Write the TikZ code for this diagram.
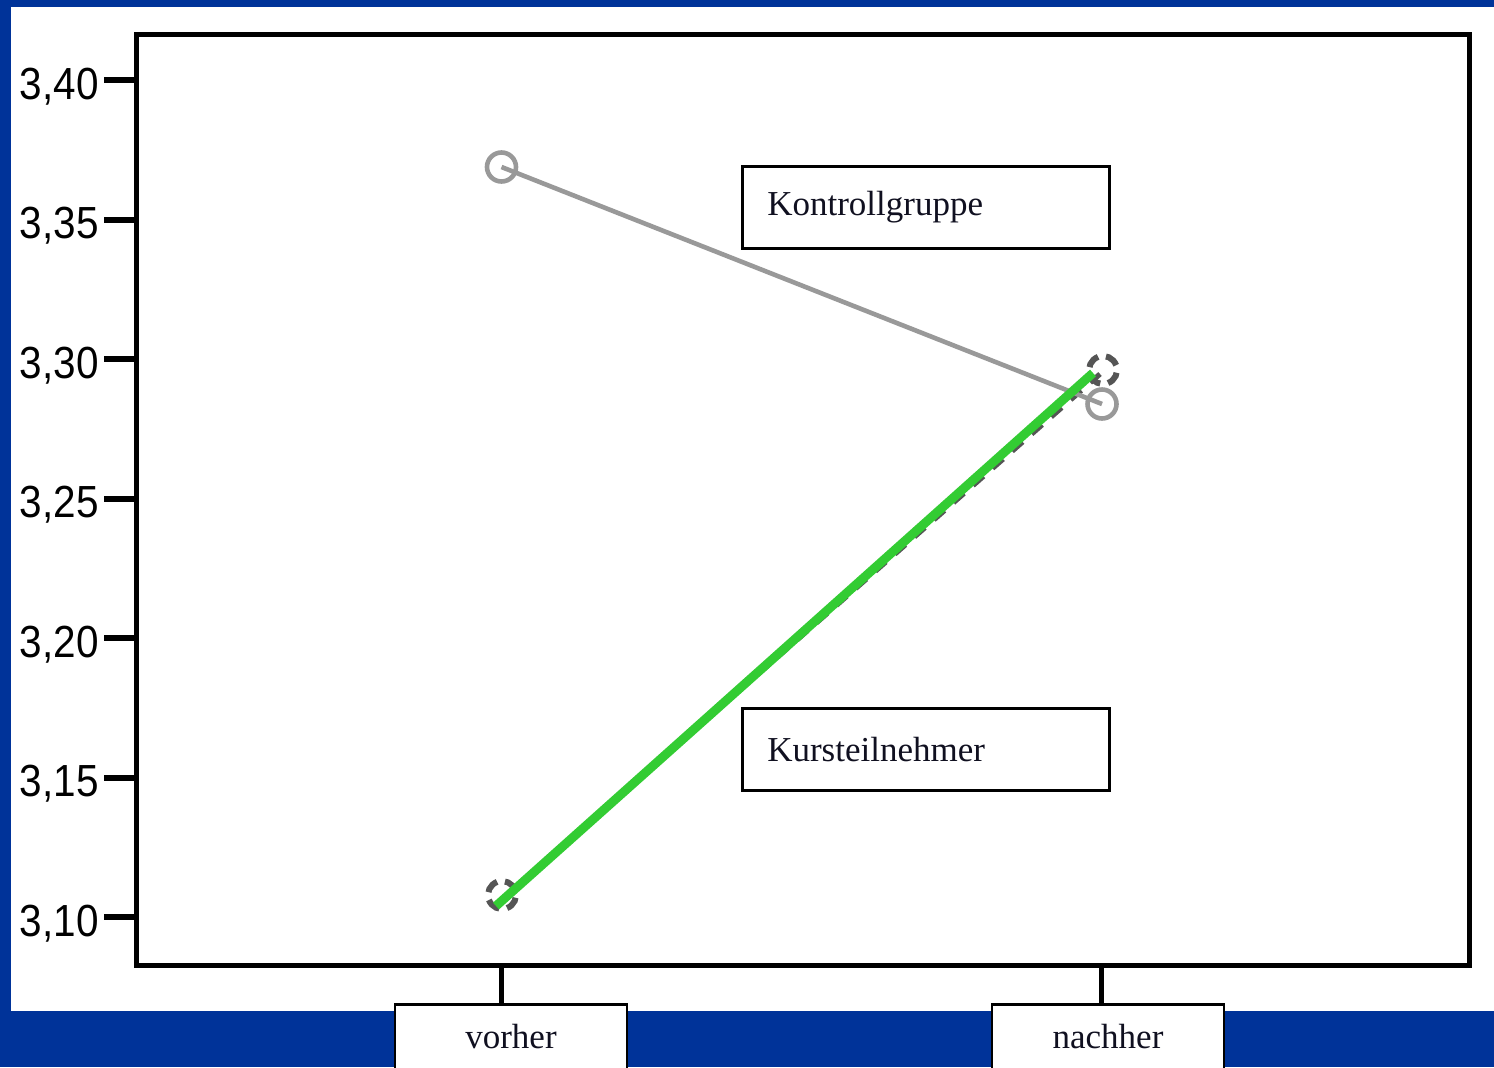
\documentclass[tikz,border=0pt]{standalone}
\usepackage{fontspec}
\usetikzlibrary{calc}
\setmainfont{Liberation Serif}
\newfontfamily\axisfont{Liberation Sans}
\definecolor{bgblue}{RGB}{0,51,153}
\definecolor{ctrlgray}{RGB}{153,153,153}
\definecolor{kursgray}{RGB}{85,85,85}
\definecolor{kursgreen}{RGB}{51,204,51}
\definecolor{txt}{RGB}{16,16,32}
\begin{document}
\begin{tikzpicture}[x=0.5pt,y=-0.5pt,
  frame/.style={line width=2.5pt,draw=black},
  tickline/.style={line width=3pt,draw=black},
  ylab/.style={anchor=base east,inner sep=0pt,font=\axisfont\fontsize{22.5}{26}\selectfont},
  legbox/.style={draw=black,line width=1.3pt,fill=white,anchor=north west,
    minimum width=183.5pt,minimum height=41pt,inner xsep=12.5pt,
    text width=158.5pt,align=left,font=\fontsize{17.5}{20}\selectfont,text=txt},
  catbox/.style={draw=black,line width=1.3pt,fill=white,anchor=north,
    minimum width=116pt,inner ysep=10pt,text height=12pt,text depth=30pt,
    font=\fontsize{17.5}{20}\selectfont,text=txt},
  ctrlline/.style={draw=ctrlgray,line width=2.3pt},
  ctrlmark/.style={circle,draw=ctrlgray,line width=2.3pt,minimum size=14.5pt,inner sep=0pt},
  kursline/.style={draw=kursgray,line width=2.6pt,dash pattern=on 7pt off 6pt},
  kursmark/.style={circle,draw=kursgray,line width=3pt,minimum size=14pt,inner sep=0pt,
    dash pattern=on 7pt off 4pt,rotate=20},
  greenline/.style={draw=kursgreen,line width=4.5pt}]
\useasboundingbox (0,0) rectangle (1494,1067);
\fill[bgblue] (0,0) rectangle (1494,1067);
\fill[white] (11,7) rectangle (1494,1011);

% frame
\draw[frame] (136.5,34.5) rectangle (1469.5,965);

% y ticks and labels
\foreach \v/\lab in {3.40/{3,40},3.35/{3,35},3.30/{3,30},3.25/{3,25},3.20/{3,20},3.15/{3,15},3.10/{3,10}}{
  \pgfmathsetmacro{\yy}{917-(\v-3.10)*2790}
  \draw[tickline] (104,\yy) -- (136,\yy);
  \node[ylab] at (99,\yy+19) {\scalebox{0.9}[1]{\lab}};
}

% x ticks and category boxes
\coordinate (tv) at (501.5,966);
\coordinate (tn) at (1101.5,966);
\node[catbox] (vorher) at (511,1003) {vorher};
\node[catbox] (nachher) at (1108,1003) {nachher};
\draw[line width=2.2pt] (tv) -- (tv |- vorher.north);
\draw[line width=2.2pt] (tn) -- (tn |- nachher.north);

% data points
\coordinate (k1) at (501.5,167);
\coordinate (k2) at (1102,404);
\coordinate (t1) at (502,895);
\coordinate (t2) at (1103,370);

% Kursteilnehmer dashed
\draw[kursline] ($(t1)+(2,2)$) -- ($(t2)+(-3,4)$);
\node[kursmark] (m3) at (t1) {};
\node[kursmark] (m4) at (t2) {};

% Kontrollgruppe
\draw[ctrlline] (k1) -- (k2);
\node[ctrlmark] (m1) at (k1) {};
\node[ctrlmark] (m2) at (k2) {};

% green line
\draw[greenline] (496,906) -- (1093,373);

% legend boxes
\node[legbox] (lk) at (741,165) {Kontrollgruppe};
\node[legbox] (lt) at (741,707) {Kursteilnehmer};
\end{tikzpicture}
\end{document}
